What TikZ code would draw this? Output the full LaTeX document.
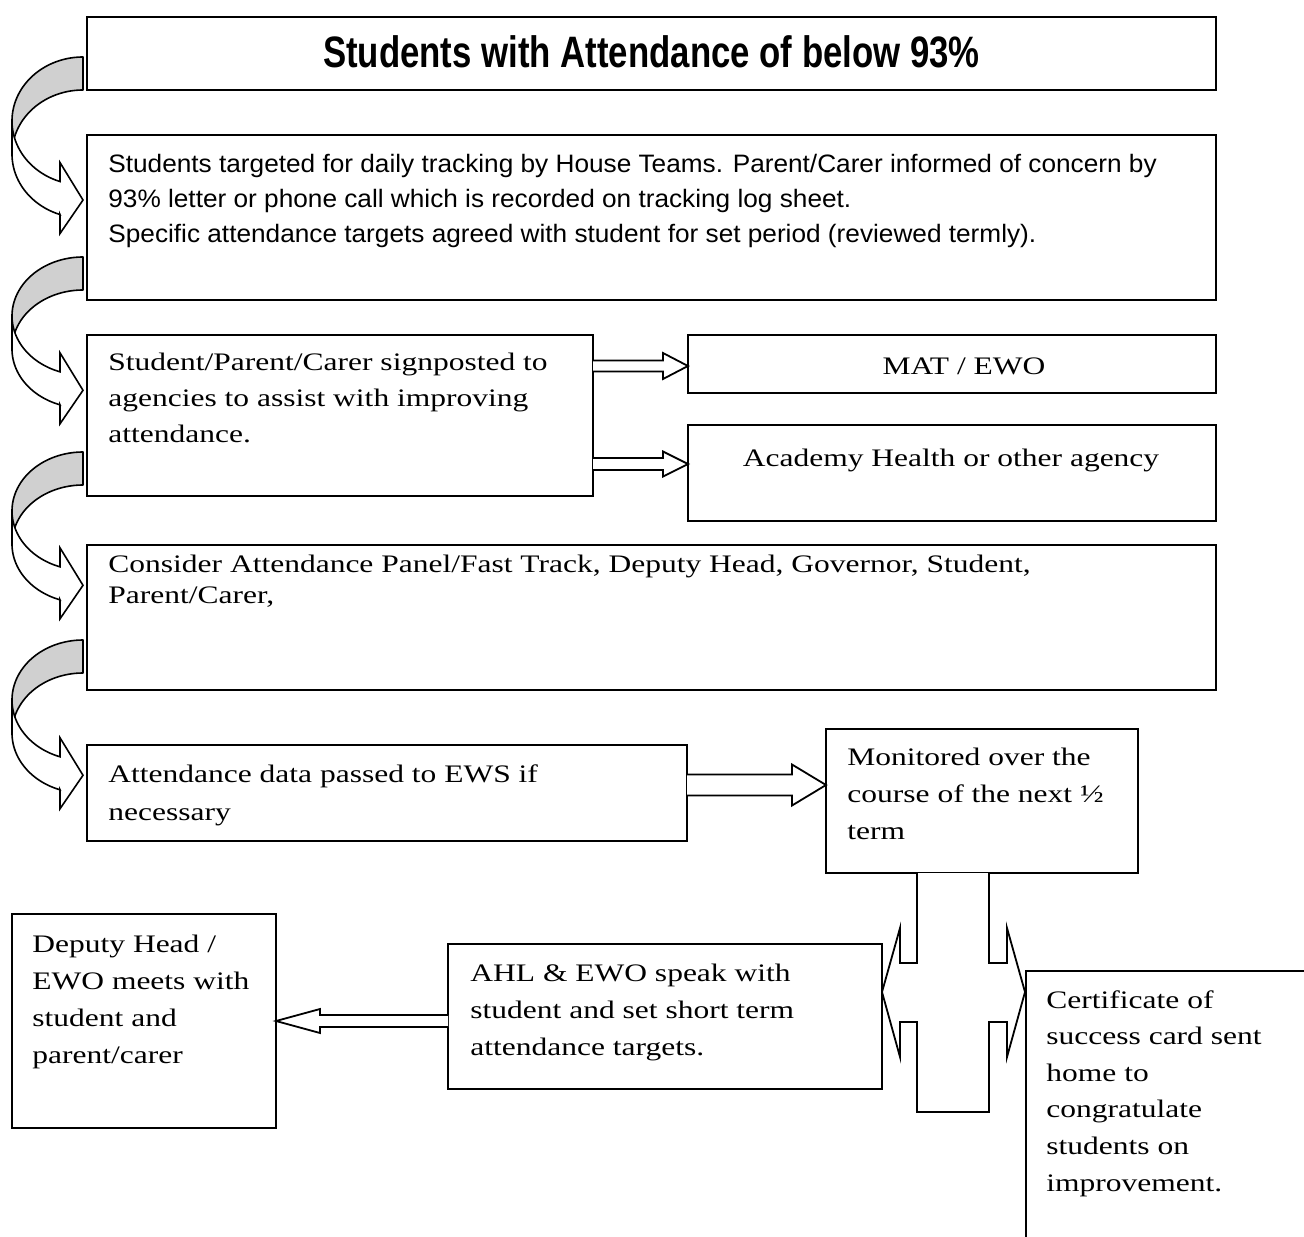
\documentclass[tikz,border=0pt]{standalone}
\usepackage{fontspec}
\setmainfont{Liberation Serif}[FakeStretch=1.25]
\newfontfamily\narrowsans{Liberation Sans}[FakeStretch=1.04]
\newfontfamily\titlesans{Liberation Sans}[FakeStretch=0.79]
\usetikzlibrary{calc}
\definecolor{bandgray}{HTML}{D0D0D0}

% curved arrow: #1 = top of the grey band (px), #2 = vertical radius (px)
\newcommand\curvarr[2]{%
  \pgfmathsetmacro\cA{#1+#2}%
  \pgfmathsetmacro\cB{#1+33+#2}%
  \pgfmathsetmacro\yi{\cA+0.946*#2}%
  \pgfmathsetmacro\yo{\cB+0.946*#2}%
  \filldraw[fill=bandgray, line width=0.8pt, line join=round]
    plot[domain=270:180, samples=40, variable=\t] ({83+71*cos(\t)},{\cA+#2*sin(\t)})
    -- (12,\cB)
    -- plot[domain=180:270, samples=40, variable=\t] ({83+71*cos(\t)},{\cB+#2*sin(\t)})
    -- cycle;
  \filldraw[fill=white, line width=0.8pt, line join=miter]
    plot[domain=180:108.9, samples=40, variable=\t] ({83+71*cos(\t)},{\cA+#2*sin(\t)})
    -- (60,{\yi-19}) -- (83,{(\yi+\yo)/2+2}) -- (60,{\yo+19}) -- (60,\yo)
    -- plot[domain=108.9:180, samples=40, variable=\t] ({83+71*cos(\t)},{\cB+#2*sin(\t)})
    -- cycle;
}
% horizontal block arrow: #1 start coord, #2 tip coord, #3 half shaft, #4 half head, #5 head length (signed)
\newcommand\harrow[5]{%
  \draw[blk] ($#1+(0,{-(#3)})$) -- ($#2+({-(#5)},{-(#3)})$) -- ($#2+({-(#5)},{-(#4)})$)
    -- #2 -- ($#2+({-(#5)},{#4})$) -- ($#2+({-(#5)},{#3})$) -- ($#1+(0,{#3})$);
}

\begin{document}
\begin{tikzpicture}[x=0.5pt,y=-0.5pt,
  box/.style={draw, line width=1pt, anchor=north west, inner sep=0pt, outer sep=0pt, fill=white},
  sz/.style 2 args={minimum width=#1*0.5pt, minimum height=#2*0.5pt},
  txt/.style={anchor=north west, inner sep=0pt, align=left,
     execute at begin node={\rule{0pt}{10pt}}},
  rm/.style={font={\fontsize{12.6}{#1}\selectfont}},
  blk/.style={draw, line width=0.9pt, fill=white, line join=miter}]
\useasboundingbox (0,0) rectangle (1304,1236);
\clip (0,0) rectangle (1304,1236);

% boxes
\node[box, sz={1129}{73}]  (b1)   at (87,17)   {};
\node[box, sz={1129}{165}] (b2)   at (87,135)  {};
\node[box, sz={506}{161}]  (b3)   at (87,335)  {};
\node[box, sz={528}{58}]   (mat)  at (688,335) {};
\node[box, sz={528}{96}]   (acad) at (688,425) {};
\node[box, sz={1129}{145}] (b4)   at (87,545)  {};
\node[box, sz={600}{96}]   (b5)   at (87,745)  {};
\node[box, sz={312}{144}]  (mon)  at (826,729) {};
\node[box, sz={264}{214}]  (dep)  at (12,914)  {};
\node[box, sz={434}{145}]  (ahl)  at (448,944) {};
\node[box, sz={320}{320}]  (cert) at (1026,971) {};

% curved arrows on the left
\curvarr{57}{64}
\curvarr{257}{59}
\curvarr{452}{59}
\curvarr{640}{60}

% block arrows
\coordinate (tm) at ($(mat.north west)+(0,31)$);
\harrow{(b3.east|-tm)}{(tm)}{5.5}{13}{25}
\coordinate (ta) at ($(acad.north west)+(0,39)$);
\harrow{(b3.east|-ta)}{(ta)}{6}{12.5}{25}
\coordinate (tb) at ($(mon.north west)+(0,56)$);
\harrow{(b5.east|-tb)}{(tb)}{10.5}{20.5}{34}
\harrow{(ahl.west|-dep.east)}{(dep.east)}{6}{12}{-44}

% double bent arrow under the monitoring box
\coordinate (bs) at ($(mon.south west)+(91,0)$);
\draw[blk] (bs) -- ++(0,90) -- ++(-17,0) -- ++(0,-35) -- ++(-18,64) -- ++(18,65)
  -- ++(0,-35) -- ++(17,0) -- ++(0,90) -- ++(72,0) -- ++(0,-90) -- ++(18,0)
  -- ++(0,35) -- ++(18,-65) -- ++(-18,-64) -- ++(0,35) -- ++(-18,0) -- ++(0,-90);

% texts
\node[anchor=base, inner sep=0pt, font={\titlesans\bfseries\fontsize{22}{26}\selectfont}]
  (t1) at (651.5,68) {Students with Attendance of below 93\%};
\node[txt, font={\narrowsans\fontsize{12.6}{17.5}\selectfont}] (t2) at (108,154)
  {Students targeted for daily tracking by House Teams. Parent/Carer informed of concern by\\
   93\% letter or phone call which is recorded on tracking log sheet.\\
   Specific attendance targets agreed with student for set period (reviewed termly).};
\node[txt, rm=18] (t3) at (108,353)
  {Student/Parent/Carer signposted to\\ agencies to assist with improving\\ attendance.};
\node[anchor=base, inner sep=0pt, rm=18] (tmat) at (964,374) {MAT / EWO};
\node[anchor=base, inner sep=0pt, rm=18] (tacad) at (951,466) {Academy Health or other agency};
\node[txt, rm=15.5] (t4) at (108,555)
  {Consider Attendance Panel/Fast Track, Deputy Head, Governor, Student,\\ Parent/Carer,};
\node[txt, rm=19] (t5) at (108,764)
  {Attendance data passed to EWS if\\ necessary};
\node[txt, rm=18.5] (tmon) at (847,748)
  {Monitored over the\\ course of the next ½\\ term};
\node[txt, rm=18.5] (tahl) at (470,964)
  {AHL \& EWO speak with\\ student and set short term\\ attendance targets.};
\node[txt, rm=18.5] (tdep) at (32,935)
  {Deputy Head /\\ EWO meets with\\ student and\\ parent/carer};
\node[txt, rm=18.3] (tcert) at (1046,990)
  {Certificate of\\ success card sent\\ home to\\ congratulate\\ students on\\ improvement.};
\end{tikzpicture}
\end{document}
